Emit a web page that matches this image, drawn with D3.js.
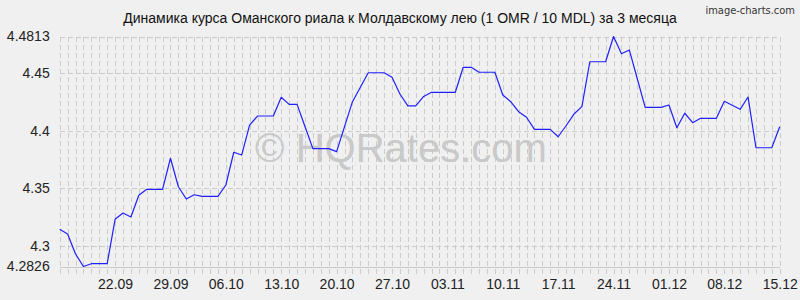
<!DOCTYPE html>
<html>
<head>
<meta charset="utf-8">
<script src="https://cdn.jsdelivr.net/npm/d3@7"></script>
<style>
body { margin: 0; background: #f0f0f0; }
svg { display: block; font-family: "Liberation Sans", Arial, sans-serif; }
</style>
</head>
<body>
<svg width="800" height="300"></svg>
<script>
const title = "Динамика курса Оманского риала к Молдавскому лею (1 OMR / 10 MDL) за 3 месяца";
const startDay = "15.09.2023", endDay = "15.12.2023";
const rates = [
  4.3147, 4.3107, 4.2934, 4.2826, 4.2850, 4.2850, 4.2850, 4.3234, 4.3288, 4.3254,
  4.3441, 4.3493, 4.3493, 4.3493, 4.3761, 4.3515, 4.3409, 4.3446, 4.3432, 4.3432,
  4.3432, 4.3530, 4.3813, 4.3789, 4.4048, 4.4126, 4.4126, 4.4126, 4.4288, 4.4227,
  4.4227, 4.4036, 4.3844, 4.3844, 4.3844, 4.3818, 4.4034, 4.4250, 4.4374, 4.4500,
  4.4500, 4.4500, 4.4461, 4.4316, 4.4213, 4.4213, 4.4295, 4.4331, 4.4331, 4.4331,
  4.4331, 4.4547, 4.4547, 4.4504, 4.4504, 4.4504, 4.4308, 4.4250, 4.4163, 4.4115,
  4.4011, 4.4011, 4.4011, 4.3947, 4.4042, 4.4143, 4.4207, 4.4595, 4.4595, 4.4595,
  4.4813, 4.4664, 4.4696, 4.4448, 4.4201, 4.4201, 4.4201, 4.4221, 4.4025, 4.4150,
  4.4068, 4.4106, 4.4106, 4.4106, 4.4253, 4.4219, 4.4184, 4.4290, 4.3852, 4.3852,
  4.3852, 4.4034
];
const yTicks = [4.2826, 4.3, 4.35, 4.4, 4.45, 4.4813];
const xLabels = ["22.09", "29.09", "06.10", "13.10", "20.10", "27.10", "03.11",
  "10.11", "17.11", "24.11", "01.12", "08.12", "15.12"];

const parse = d3.utcParse("%d.%m.%Y"), fmt = d3.utcFormat("%d.%m");
const days = d3.utcDay.range(parse(startDay), d3.utcDay.offset(parse(endDay), 1));
const data = days.map((d, i) => ({ date: d, value: rates[i] }));

const margin = { top: 36.5, right: 20.3, bottom: 33.5, left: 59.7 },
  width = 800 - margin.left - margin.right,
  height = 300 - margin.top - margin.bottom;

const svg = d3.select("svg");

const x = d3.scaleUtc()
  .domain(d3.extent(days))
  .range([margin.left, margin.left + width]);

const y = d3.scaleLinear()
  .domain([yTicks[0], yTicks[yTicks.length - 1]])
  .range([margin.top + height, margin.top]);

const px = v => Math.round(v) + 0.5;

// grid
const grid = svg.append("g")
  .attr("stroke", "#cbcbcb")
  .attr("stroke-width", 1)
  .attr("shape-rendering", "crispEdges");

grid.selectAll(".vgrid")
  .data(days)
  .join("line")
  .attr("class", "vgrid")
  .attr("x1", d => px(x(d))).attr("x2", d => px(x(d)))
  .attr("y1", margin.top).attr("y2", margin.top + height + 10)
  .attr("stroke-dasharray", "5,3");

grid.selectAll(".hgrid")
  .data(yTicks)
  .join("line")
  .attr("class", "hgrid")
  .attr("x1", margin.left).attr("x2", margin.left + width)
  .attr("y1", d => px(y(d))).attr("y2", d => px(y(d)))
  .attr("stroke-dasharray", (d, i) => i === 0 ? null : "5,3");

// watermark
svg.append("text")
  .attr("x", 401)
  .attr("y", 162)
  .attr("text-anchor", "middle")
  .attr("font-size", 40)
  .attr("fill", "#c9c9c9")
  .text("© HQRates.com");

// axes
const yAxis = d3.axisLeft(y)
  .tickValues(yTicks)
  .tickFormat(d => String(d))
  .tickSize(0)
  .tickPadding(10);

svg.append("g")
  .attr("class", "y axis")
  .attr("transform", `translate(${margin.left},0)`)
  .call(yAxis)
  .call(g => g.select(".domain").remove())
  .selectAll("text")
  .attr("font-size", 14)
  .attr("fill", "#222");

const xAxis = d3.axisBottom(x)
  .tickValues(days.filter(d => xLabels.includes(fmt(d))))
  .tickFormat(fmt)
  .tickSize(0)
  .tickPadding(13);

svg.append("g")
  .attr("class", "x axis")
  .attr("transform", `translate(0,${margin.top + height})`)
  .call(xAxis)
  .call(g => g.select(".domain").remove())
  .selectAll("text")
  .attr("font-size", 14)
  .attr("fill", "#222");

// line
const line = d3.line()
  .x(d => x(d.date))
  .y(d => y(d.value));

svg.append("path")
  .datum(data)
  .attr("fill", "none")
  .attr("stroke", "#2020ff")
  .attr("stroke-width", 1.2)
  .attr("stroke-linejoin", "round")
  .attr("d", line);

// title and credit
svg.append("text")
  .attr("x", 400)
  .attr("y", 23)
  .attr("text-anchor", "middle")
  .attr("font-size", 14)
  .attr("fill", "#111")
  .text(title);

svg.append("text")
  .attr("x", 795)
  .attr("y", 14)
  .attr("text-anchor", "end")
  .attr("font-family", "DejaVu Sans Condensed, DejaVu Sans, sans-serif")
  .attr("font-size", 11)
  .attr("fill", "#333")
  .text("image-charts.com");
</script>
</body>
</html>
